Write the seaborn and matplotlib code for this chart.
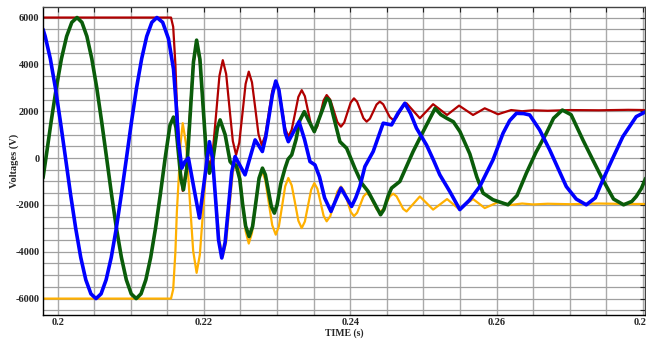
import matplotlib
matplotlib.use("Agg")
import matplotlib.pyplot as plt
from matplotlib.ticker import MultipleLocator, FixedLocator, FixedFormatter
import seaborn as sns
import pandas as pd

# ---- sampled voltages (time in s, voltage in V) ----
# Shared time base for the two trapped-charge phases
t_dc = [0.1980, 0.2155, 0.2158, 0.2161, 0.2163, 0.2166, 0.2168, 0.2171,
        0.21758, 0.21805, 0.21853, 0.2190,
        0.21944, 0.21988, 0.22031, 0.22075,
        0.22121, 0.22167, 0.22212, 0.22258,
        0.22304, 0.22349, 0.22395, 0.2244,
        0.22483, 0.22527, 0.2257, 0.22613,
        0.22657, 0.22702, 0.22746, 0.2279,
        0.22838, 0.22886, 0.22934, 0.22982,
        0.23025, 0.23068, 0.23111, 0.23154,
        0.232, 0.23246, 0.23291, 0.23337,
        0.2338, 0.23423, 0.23466, 0.23509,
        0.23551, 0.23594, 0.23636, 0.23678,
        0.23727, 0.23776, 0.23824, 0.23873,
        0.23918, 0.23962, 0.24007, 0.24051,
        0.24094, 0.24138, 0.24181, 0.24224,
        0.24269, 0.24315, 0.2436, 0.24405,
        0.24451, 0.24496, 0.24542, 0.24587,
        0.24633, 0.24679, 0.24724, 0.2477,
        0.24861, 0.24952, 0.25043, 0.25133, 0.25229, 0.25324, 0.25406,
        0.25488, 0.25584, 0.25679, 0.25759, 0.25839, 0.2593, 0.2602,
        0.2611, 0.2620, 0.2635, 0.2650, 0.2670, 0.2700, 0.2740, 0.2780, 0.2804]

v_red = [6000, 6000, 5600, 4000, 2300, 700, -500, -1400,
         -480, 1745, 3970, 4890,
         4115, 2245, 375, -400,
         270, 1890, 3510, 4180,
         3588, 2158, 728, 136,
         657, 1913, 3169, 3690,
         3232, 2125, 1018, 560,
         955, 1910, 2865, 3260,
         2917, 2090, 1263, 920,
         1210, 1910, 2610, 2900,
         2641, 2015, 1389, 1130,
         1358, 1910, 2462, 2690,
         2492, 2015, 1538, 1340,
         1517, 1945, 2373, 2550,
         2405, 2053, 1701, 1555,
         1680, 1983, 2286, 2410,
         2296, 2020, 1744, 1630,
         1734, 1985, 2236, 2340,
         2020, 1700, 2000, 2300, 2070, 1840, 2040,
         2240, 2040, 1840, 1980, 2125, 2000, 1870,
         1960, 2050, 2000, 2040, 2020, 2050, 2040, 2060, 2050]

v_orange = [-6000, -6000, -5600, -4000, -2300, -600, 600, 1490,
            554, -1705, -3964, -4900,
            -4131, -2275, -419, 350,
            -283, -1925, -3533, -4200,
            -3585, -2100, -615, 0,
            -535, -1825, -3115, -3650,
            -3192, -2085, -978, -520,
            -923, -1895, -2867, -3270,
            -2915, -2060, -1205, -850,
            -1164, -1920, -2676, -2990,
            -2709, -2030, -1351, -1070,
            -1309, -1885, -2461, -2700,
            -2483, -1958, -1433, -1215,
            -1400, -1848, -2295, -2480,
            -2336, -1988, -1640, -1495,
            -1613, -1898, -2183, -2300,
            -2186, -1910, -1634, -1520,
            -1631, -1900, -2169, -2280,
            -1960, -1640, -1920, -2200, -1975, -1750, -1965,
            -2180, -1965, -1750, -1940, -2135, -2010, -1880,
            -1940, -2000, -1940, -1980, -1950, -1970, -1940, -1960, -1960]

t_green = [0.1980, 0.19840, 0.19911, 0.19982, 0.20052, 0.20123, 0.20194, 0.20265,
           0.20332, 0.20400, 0.20467, 0.20535, 0.20602, 0.20670, 0.20737, 0.20804,
           0.20872, 0.20939, 0.21006, 0.21074,
           0.2114, 0.21206, 0.21272, 0.21338, 0.21404, 0.2147, 0.21536, 0.21584,
           0.21618, 0.21652, 0.21686, 0.2172, 0.21766, 0.21812, 0.21857, 0.2190,
           0.21946, 0.21989, 0.22032, 0.22075, 0.22112, 0.22148, 0.22185, 0.22221,
           0.2229, 0.22358, 0.2240, 0.2244, 0.2249, 0.2253, 0.2257, 0.22618,
           0.22665, 0.2271, 0.22754, 0.2280, 0.2284, 0.22881, 0.22922, 0.22963,
           0.2300, 0.2305, 0.23109, 0.2315, 0.2320, 0.2326, 0.2331, 0.23372,
           0.2344, 0.23509, 0.23594, 0.23678, 0.2372, 0.2377, 0.23859, 0.23951,
           0.24063, 0.24156, 0.24246, 0.24415, 0.2446, 0.2452, 0.24565, 0.24678,
           0.2486, 0.24997, 0.2516, 0.2524, 0.2532, 0.2541, 0.2550, 0.25635,
           0.2573, 0.25816, 0.25952, 0.26157, 0.2628, 0.26408, 0.2654, 0.26681,
           0.2678, 0.2690, 0.2702, 0.27181, 0.2732, 0.27454, 0.2760, 0.27737,
           0.2785, 0.2791, 0.2798, 0.2804]

v_green = [-850, 0, 1553, 3000, 4243, 5196, 5796, 6000,
           5796, 5196, 4243, 3000, 1553, 0, -1553, -3000,
           -4243, -5196, -5796, -6000,
           -5796, -5196, -4243, -3000, -1553, 0, 1400, 1750,
           1300, 200, -900, -1355, -420, 1840, 4100, 5035,
           4203, 2195, 187, -645, -312, 492, 1296, 1630,
           1000, -150, -300, -300, -900, -2000, -2900, -3350,
           -2922, -1890, -858, -430, -711, -1390, -2069, -2350,
           -2000, -1100, -430, -50, 136, 800, 1600, 1980,
           1555, 1130, 1840, 2550, 2450, 1800, 700, 420,
           -430, -1070, -1430, -2420, -2200, -1600, -1280, -1000,
           280, 1130, 2120, 1850, 1700, 1550, 1130, 180,
           -800, -1495, -1780, -1995, -1600, -645, 250, 1060,
           1700, 2050, 1850, 775, -100, -930, -1750, -1995,
           -1850, -1640, -1300, -860]

t_blue = [0.1980, 0.19830, 0.19900, 0.19969, 0.20038, 0.20108, 0.20177, 0.20247,
          0.20316, 0.20385, 0.20455, 0.20524, 0.20594, 0.20663, 0.20733, 0.20802,
          0.20871, 0.20941, 0.2101, 0.21079, 0.21149, 0.21218, 0.21288, 0.21357,
          0.21436, 0.21515, 0.21584, 0.2162, 0.21652, 0.21698, 0.2174, 0.21788,
          0.21864, 0.21939, 0.22007, 0.22075, 0.22117, 0.2216, 0.222, 0.22244,
          0.2229, 0.22335, 0.2238, 0.22426, 0.22494, 0.22562, 0.22631, 0.227,
          0.2275, 0.22799, 0.22845, 0.2289, 0.22936, 0.22982, 0.23025, 0.23068,
          0.23111, 0.23154, 0.23227, 0.233, 0.23375, 0.2345, 0.23518, 0.2358,
          0.2365, 0.23737, 0.23805, 0.23873, 0.23946, 0.24019, 0.24075, 0.24132,
          0.24201, 0.24314, 0.24451, 0.24565, 0.2465, 0.24747, 0.24825, 0.24906,
          0.25043, 0.2514, 0.25225, 0.25362, 0.25498, 0.2563, 0.25771, 0.25952,
          0.26089, 0.2618, 0.26272, 0.2637, 0.26454, 0.2659, 0.26727, 0.26954,
          0.2709, 0.27227, 0.2735, 0.27454, 0.2759, 0.27727, 0.2791, 0.2804]

v_blue = [5500, 5196, 4243, 3000, 1553, 0, -1553, -3000,
          -4243, -5196, -5796, -6000, -5796, -5196, -4243, -3000,
          -1553, 0, 1553, 3000, 4243, 5196, 5796, 6000,
          5796, 5100, 3800, 2300, 700, -430, -150, 0,
          -1300, -2560, -930, 700, 0, -1780, -3500, -4265,
          -3600, -2100, -600, 65, -325, -715, 30, 775,
          530, 280, 900, 1785, 2700, 3290, 2910, 2000,
          1080, 700, 1130, 1555, 800, -150, -290, -800,
          -1700, -2280, -1780, -1280, -1670, -2065, -1700, -1215,
          -360, 280, 1490, 1415, 1900, 2340, 1900, 1275,
          560, -100, -715, -1430, -2200, -1800, -1215, -75,
          1060, 1600, 1910, 1900, 1840, 1200, 350, -1215,
          -1750, -1995, -1700, -930, 0, 915, 1770, 1980]

x_ticks = [0.20, 0.22, 0.24, 0.26, 0.28]
x_tick_labels = ["0.2", "0.22", "0.24", "0.26", "0.28"]
y_ticks = [-6000, -4000, -2000, 0, 2000, 4000, 6000]
y_tick_labels = ["-6000", "-4000", "-2000", "0", "2000", "4000", "6000"]

traces = [
    ("red", t_dc, v_red, "#b00000", 1.6),
    ("orange", t_dc, v_orange, "#ffb000", 1.6),
    ("green", t_green, v_green, "#0a5c0a", 2.6),
    ("blue", t_blue, v_blue, "#0000ff", 2.6),
]

sns.set_style("white")
plt.rcParams["font.family"] = ["Liberation Serif", "DejaVu Serif"]
plt.rcParams["font.weight"] = "bold"
plt.rcParams["axes.unicode_minus"] = False

fig = plt.figure(figsize=(6.46, 3.41), dpi=100)
ax = fig.add_axes([43 / 646, 26 / 341, 602 / 646, 308 / 341])

for name, t, v, color, lw in traces:
    df = pd.DataFrame({"time": t, "voltage": v})
    sns.lineplot(data=df, x="time", y="voltage", ax=ax, color=color,
                 linewidth=lw, sort=False, estimator=None, legend=False,
                 solid_joinstyle="round", solid_capstyle="round")

ax.set_xlim(0.198, 0.2803)
ax.set_ylim(-6700, 6450)

ax.xaxis.set_major_locator(FixedLocator(x_ticks))
ax.xaxis.set_major_formatter(FixedFormatter(x_tick_labels))
ax.xaxis.set_minor_locator(MultipleLocator(0.005))
ax.yaxis.set_major_locator(FixedLocator(y_ticks))
ax.yaxis.set_major_formatter(FixedFormatter(y_tick_labels))
ax.yaxis.set_minor_locator(MultipleLocator(500))

ax.grid(which="both", axis="x", color="#aaaaaa", linewidth=1.0)
ax.grid(which="both", axis="y", color="#a0a0a0", linewidth=0.9)
ax.set_axisbelow(True)

ax.tick_params(which="both", direction="in", top=True, right=True,
               length=3.5, width=0.8, color="#222222")
ax.tick_params(which="major", labelsize=7.5, pad=2.5)

for side in ("left", "bottom"):
    ax.spines[side].set_color("black")
    ax.spines[side].set_linewidth(1.0)
for side in ("top", "right"):
    ax.spines[side].set_color("#444444")
    ax.spines[side].set_linewidth(1.0)

ax.set_xlabel("TIME (s)", fontsize=7.0, fontweight="bold", labelpad=1)
ax.set_ylabel("Voltages (V)", fontsize=7.5, fontweight="bold")
ax.yaxis.set_label_coords(-0.040, 0.5)

fig.savefig("out.png", dpi=100)
